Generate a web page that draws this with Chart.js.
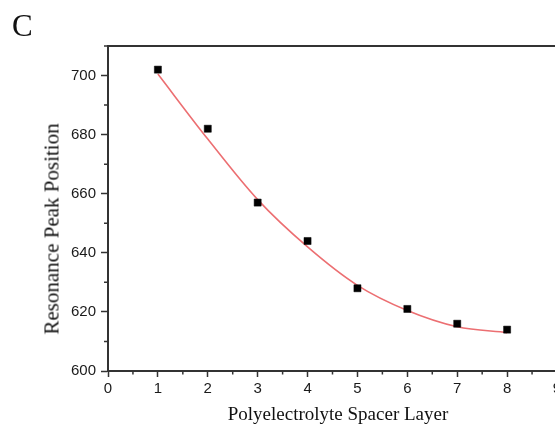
<!DOCTYPE html>
<html>
<head>
<meta charset="utf-8">
<script src="https://cdn.jsdelivr.net/npm/chart.js@4"></script>
<style>
  html, body { margin: 0; padding: 0; background: #fff; overflow: hidden; width: 555px; height: 425px; }
  #wrap { position: relative; width: 600px; height: 425px; }
  #chart { position: absolute; left: 0; top: 0; }
  .lbl { position: absolute; font-family: "Liberation Serif", "Times New Roman", serif; color: #111; white-space: nowrap; }
  #panel { left: 12px; top: 8px; font-size: 31px; }
  #ytitle { left: 52px; top: 229px; font-size: 21px; transform: translate(-50%, -50%) rotate(-90deg); }
  #xtitle { left: 338px; top: 414px; font-size: 19px; transform: translate(-50%, -50%); }
</style>
</head>
<body>
<div id="wrap">
  <canvas id="chart" width="600" height="425"></canvas>
  <div class="lbl" id="panel">C</div>
  <div class="lbl" id="ytitle">Resonance Peak Position</div>
  <div class="lbl" id="xtitle">Polyelectrolyte Spacer Layer</div>
</div>
<script>
// measured points
const layers = [1, 2, 3, 4, 5, 6, 7, 8];
const peakPos = [702, 682, 657, 644, 628, 621, 616, 614];

// red fit curve at each layer
const fitX = [1, 2, 3, 4, 5, 6, 7, 8];
const fitY = [700.5, 678.5, 658, 642, 629, 620.5, 615, 613];

// tick labels
const xTicks = [0, 1, 2, 3, 4, 5, 6, 7, 8, 9];
const yTicks = [600, 620, 640, 660, 680, 700];

const axisColor = '#333';
const tickFont = { family: 'Liberation Sans, Arial, sans-serif', size: 15 };

// minor ticks + top/right frame
const framePlugin = {
    id: 'frame',
    afterDraw(chart) {
        const ctx = chart.ctx;
        const a = chart.chartArea;
        const xs = chart.scales.x, ys = chart.scales.y;
        ctx.save();
        ctx.strokeStyle = axisColor;
        ctx.lineWidth = 2;
        ctx.beginPath();
        ctx.moveTo(a.left - 1, a.top);
        ctx.lineTo(a.right, a.top);
        ctx.lineTo(a.right, a.bottom);
        ctx.stroke();

        ctx.lineWidth = 1.5;
        ctx.beginPath();
        for (let i = 0; i < xTicks.length - 1; i++) {
            const px = xs.getPixelForValue((xTicks[i] + xTicks[i + 1]) / 2);
            ctx.moveTo(px, a.bottom);
            ctx.lineTo(px, a.bottom + 3.5);
        }
        for (let i = 0; i < yTicks.length; i++) {
            const py = ys.getPixelForValue(yTicks[i] + 10);
            ctx.moveTo(a.left, py);
            ctx.lineTo(a.left - 4, py);
        }
        ctx.stroke();
        ctx.restore();
    }
};

new Chart(document.getElementById('chart'), {
    type: 'scatter',
    data: {
        datasets: [
            {
                label: 'data',
                data: layers.map((x, i) => ({ x: x, y: peakPos[i] })),
                pointStyle: 'rect',
                pointRadius: 5,
                pointBackgroundColor: '#000',
                pointBorderColor: '#000',
                pointBorderWidth: 0.5,
                order: 0
            },
            {
                label: 'fit',
                data: fitX.map((x, i) => ({ x: x, y: fitY[i] })),
                showLine: true,
                borderColor: '#ec6f72',
                borderWidth: 1.6,
                pointRadius: 0,
                cubicInterpolationMode: 'monotone',
                order: 1
            }
        ]
    },
    options: {
        responsive: false,
        animation: false,
        devicePixelRatio: 1,
        layout: { padding: { left: 0, top: 46, right: 43, bottom: 0 } },
        plugins: { legend: { display: false }, tooltip: { enabled: false } },
        scales: {
            x: {
                type: 'linear',
                min: 0,
                max: 9,
                afterBuildTicks: s => { s.ticks = xTicks.map(v => ({ value: v })); },
                afterFit: s => { s.height = 54; },
                ticks: { font: tickFont, color: '#1a1a1a', padding: 3, maxRotation: 0, autoSkip: false },
                grid: { drawOnChartArea: false, drawTicks: true, tickLength: 6, tickColor: axisColor, tickWidth: 1.5 },
                border: { display: true, color: axisColor, width: 2 }
            },
            y: {
                type: 'linear',
                min: 600,
                max: 710,
                afterBuildTicks: s => { s.ticks = yTicks.map(v => ({ value: v })); },
                afterFit: s => { s.width = 108; },
                ticks: { font: tickFont, color: '#1a1a1a', padding: 5, autoSkip: false },
                grid: { drawOnChartArea: false, drawTicks: true, tickLength: 7, tickColor: axisColor, tickWidth: 1.5 },
                border: { display: true, color: axisColor, width: 2 }
            }
        }
    },
    plugins: [framePlugin]
});
</script>
</body>
</html>
